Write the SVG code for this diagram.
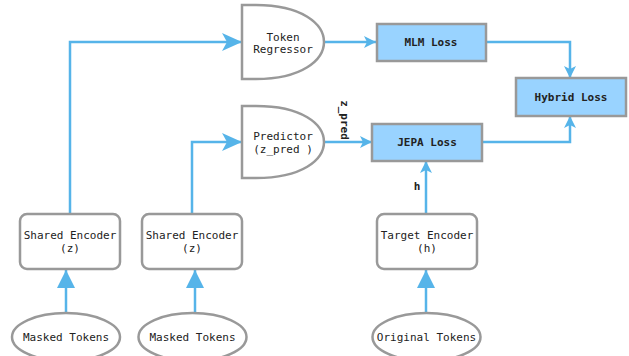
<svg xmlns="http://www.w3.org/2000/svg" width="629" height="356" viewBox="0 0 629 356">
  <defs>
    <style>
      .box { fill: #ffffff; stroke: #999999; stroke-width: 2.5; }
      .loss { fill: #99d3ff; stroke: #999999; stroke-width: 2.5; }
      .edge { fill: none; stroke: #56b4e9; stroke-width: 2.5; }
      .t { font-family: "DejaVu Sans Mono", "Liberation Mono", monospace; font-size: 11px; fill: #222222; text-anchor: middle; }
      .b { font-weight: bold; }
    </style>
    <marker id="barb" viewBox="0 0 12 12" refX="12" refY="6" markerWidth="12" markerHeight="12" markerUnits="userSpaceOnUse" orient="auto">
      <path d="M0,0 L12,6 L0,12 L3,6 Z" fill="#56b4e9"/>
    </marker>
    <marker id="barbBig" viewBox="0 0 20 18" refX="20" refY="9" markerWidth="20" markerHeight="18" markerUnits="userSpaceOnUse" orient="auto">
      <path d="M0,0 L20,9 L0,18 L5,9 Z" fill="#56b4e9"/>
    </marker>
    <marker id="tri" viewBox="0 0 18 18" refX="18" refY="9" markerWidth="18" markerHeight="18" markerUnits="userSpaceOnUse" orient="auto">
      <path d="M0,0 L18,9 L0,18 Z" fill="#56b4e9"/>
    </marker>
  </defs>

  <!-- connectors -->
  <g id="connectors">
    <path class="edge" d="M66,313 V270" marker-end="url(#tri)"/>
    <path class="edge" d="M195,313 V270" marker-end="url(#tri)"/>
    <path class="edge" d="M426,313 V270" marker-end="url(#tri)"/>
    <path class="edge" d="M70,214 V42 H242" marker-end="url(#barbBig)"/>
    <path class="edge" d="M192,214 V142 H242" marker-end="url(#barbBig)"/>
    <path class="edge" d="M324,42 H376" marker-end="url(#barb)"/>
    <path class="edge" d="M324,142 H372" marker-end="url(#barb)"/>
    <path class="edge" d="M426,214 V161" marker-end="url(#barb)"/>
    <path class="edge" d="M486,42 H570 V78" marker-end="url(#barb)"/>
    <path class="edge" d="M482,142 H570 V116" marker-end="url(#barb)"/>
    <text class="t b" font-size="10" transform="translate(341,120) rotate(90)">z_pred</text>
    <text class="t b" x="417" y="190" font-size="10">h</text>
  </g>

  <!-- input tokens -->
  <g id="masked1">
    <ellipse class="box" cx="66" cy="337" rx="54" ry="24"/>
    <text class="t" x="66" y="341">Masked Tokens</text>
  </g>
  <g id="masked2">
    <ellipse class="box" cx="192.5" cy="337" rx="54" ry="24"/>
    <text class="t" x="192.5" y="341">Masked Tokens</text>
  </g>
  <g id="original">
    <ellipse class="box" cx="426.5" cy="337" rx="54" ry="24"/>
    <text class="t" x="426.5" y="341">Original Tokens</text>
  </g>

  <!-- encoders -->
  <g id="shared1">
    <rect class="box" x="20" y="214" width="100" height="55" rx="7"/>
    <text class="t" x="70" y="239">Shared Encoder</text>
    <text class="t" x="70" y="252">(z)</text>
  </g>
  <g id="shared2">
    <rect class="box" x="142" y="214" width="100" height="55" rx="7"/>
    <text class="t" x="192" y="239">Shared Encoder</text>
    <text class="t" x="192" y="252">(z)</text>
  </g>
  <g id="target">
    <rect class="box" x="377" y="214" width="100" height="55" rx="7"/>
    <text class="t" x="427" y="239">Target Encoder</text>
    <text class="t" x="427" y="252">(h)</text>
  </g>

  <!-- heads -->
  <g id="regressor">
    <path class="box" d="M242,5 H256 C302,5 324,24 324,42 C324,60 302,79 256,79 H242 Z"/>
    <text class="t" x="283" y="41">Token</text>
    <text class="t" x="283" y="53">Regressor</text>
  </g>
  <g id="predictor">
    <path class="box" d="M242,106 H256 C302,106 324,124 324,142 C324,160 302,178 256,178 H242 Z"/>
    <text class="t" x="283" y="140">Predictor</text>
    <text class="t" x="283" y="153">(z_pred )</text>
  </g>

  <!-- losses -->
  <g id="mlm">
    <rect class="loss" x="377" y="24" width="109" height="37"/>
    <text class="t b" x="431" y="46">MLM Loss</text>
  </g>
  <g id="jepa">
    <rect class="loss" x="372" y="124" width="110" height="37"/>
    <text class="t b" x="427" y="146">JEPA Loss</text>
  </g>
  <g id="hybrid">
    <rect class="loss" x="516" y="78" width="110" height="38"/>
    <text class="t b" x="571" y="101">Hybrid Loss</text>
  </g>
</svg>
